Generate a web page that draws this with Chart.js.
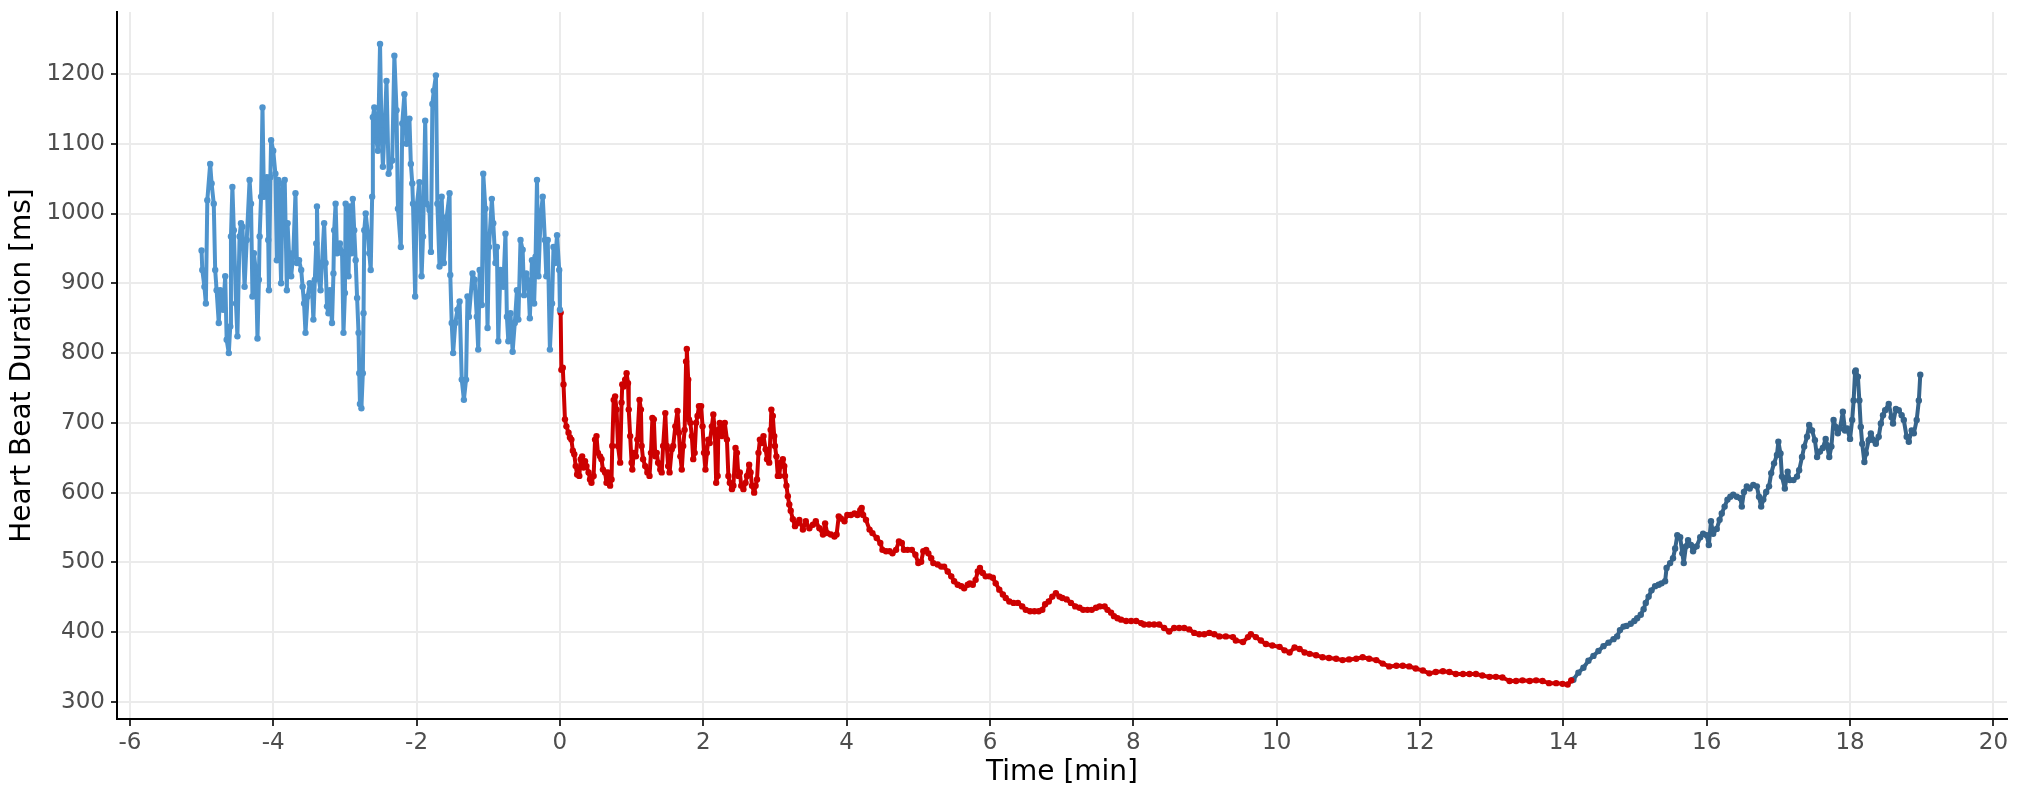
<!DOCTYPE html>
<html>
<head>
<meta charset="utf-8">
<title>Heart Beat Duration</title>
<script src="https://cdn.jsdelivr.net/npm/chart.js@4.4.1/dist/chart.umd.min.js"></script>
<style>
  html, body { margin: 0; padding: 0; background: #fff; }
  canvas { display: block; }
</style>
</head>
<body>
<canvas id="myChart" width="2018" height="800"></canvas>
<script>
// baseline (light blue), before time 0
const baseTime = [
  -5.00, -4.99, -4.96, -4.94, -4.92, -4.88, -4.86, -4.83, -4.81, -4.79, -4.76, -4.74, -4.72, -4.70, -4.67,
  -4.65, -4.62, -4.60, -4.59, -4.57, -4.55, -4.52, -4.50, -4.47, -4.45, -4.43, -4.40, -4.37, -4.33, -4.31,
  -4.29, -4.27, -4.24, -4.22, -4.20, -4.19, -4.17, -4.15, -4.13, -4.09, -4.07, -4.06, -4.04, -4.03, -4.00,
  -3.97, -3.95, -3.93, -3.89, -3.87, -3.84, -3.81, -3.80, -3.78, -3.75, -3.72, -3.69, -3.67, -3.64, -3.61,
  -3.59, -3.57, -3.55, -3.52, -3.49, -3.46, -3.44, -3.42, -3.40, -3.39, -3.37, -3.34, -3.32, -3.29, -3.27,
  -3.25, -3.23, -3.21, -3.18, -3.16, -3.15, -3.13, -3.11, -3.07, -3.04, -3.02, -3.00, -2.99, -2.96, -2.95,
  -2.93, -2.91, -2.89, -2.87, -2.85, -2.83, -2.81, -2.80, -2.79, -2.77, -2.75, -2.74, -2.73, -2.71, -2.68,
  -2.66, -2.64, -2.62, -2.61, -2.59, -2.56, -2.54, -2.51, -2.49, -2.47, -2.44, -2.42, -2.39, -2.37, -2.34,
  -2.31, -2.28, -2.26, -2.22, -2.20, -2.17, -2.14, -2.10, -2.08, -2.06, -2.05, -2.02, -2.00, -1.96, -1.93,
  -1.91, -1.88, -1.86, -1.82, -1.80, -1.78, -1.76, -1.73, -1.71, -1.68, -1.65, -1.62, -1.58, -1.54, -1.53,
  -1.51, -1.49, -1.46, -1.43, -1.40, -1.37, -1.34, -1.31, -1.29, -1.27, -1.22, -1.19, -1.16, -1.14, -1.12,
  -1.09, -1.07, -1.04, -1.01, -0.99, -0.95, -0.93, -0.90, -0.88, -0.86, -0.83, -0.79, -0.76, -0.74, -0.72,
  -0.69, -0.66, -0.63, -0.60, -0.58, -0.55, -0.52, -0.50, -0.47, -0.44, -0.42, -0.39, -0.36, -0.34, -0.32,
  -0.30, -0.27, -0.24, -0.21, -0.19, -0.17, -0.14, -0.11, -0.09, -0.07, -0.04, -0.01, 0.00
];
const baseMs = [
  947, 919, 895, 871, 1019, 1071, 1043, 1014, 919, 890, 843, 890, 886, 862, 910,
  819, 800, 838, 967, 1038, 976, 871, 824, 967, 986, 981, 895, 962, 1048, 1014,
  881, 943, 915, 821, 905, 967, 1024, 1152, 1024, 1052, 962, 890, 1052, 1105, 1090,
  1057, 933, 1048, 900, 1043, 1048, 890, 986, 943, 910, 943, 1029, 929, 933, 919,
  895, 871, 829, 881, 900, 895, 848, 905, 957, 1010, 910, 890, 929, 986, 929,
  867, 857, 890, 843, 914, 976, 1014, 943, 957, 943, 829, 886, 1014, 1000, 910,
  1010, 943, 1021, 976, 933, 879, 829, 771, 727, 721, 771, 857, 976, 1000, 971,
  943, 919, 1024, 1138, 1152, 1105, 1090, 1243, 1119, 1067, 1138, 1190, 1057, 1067, 1076,
  1226, 1148, 1007, 952, 1129, 1171, 1100, 1136, 1071, 1043, 1014, 881, 1010, 1045, 910,
  967, 1133, 1014, 1005, 945, 1157, 1176, 1198, 1014, 924, 1024, 929, 995, 1029, 912,
  843, 800, 843, 862, 874, 762, 733, 762, 881, 852, 914, 905, 852, 805, 919,
  869, 1057, 1007, 836, 952, 1021, 986, 929, 952, 817, 919, 895, 971, 852, 817,
  857, 802, 843, 890, 848, 962, 948, 883, 914, 900, 850, 933, 871, 938, 1048,
  910, 995, 1024, 962, 910, 962, 805, 871, 952, 929, 969, 919, 862
];

// stress phase (red)
const stressTime = [
  0.01, 0.02, 0.04, 0.05, 0.07, 0.09, 0.12, 0.14, 0.16, 0.18, 0.20, 0.22, 0.24, 0.27, 0.29,
  0.31, 0.33, 0.35, 0.37, 0.40, 0.42, 0.44, 0.47, 0.49, 0.51, 0.53, 0.56, 0.58, 0.60, 0.63,
  0.65, 0.67, 0.70, 0.72, 0.73, 0.75, 0.77, 0.79, 0.81, 0.84, 0.86, 0.87, 0.89, 0.91, 0.93,
  0.95, 0.96, 0.98, 1.00, 1.01, 1.03, 1.06, 1.08, 1.11, 1.13, 1.14, 1.16, 1.19, 1.22, 1.25,
  1.27, 1.29, 1.31, 1.33, 1.35, 1.37, 1.40, 1.42, 1.44, 1.47, 1.49, 1.51, 1.53, 1.56, 1.58,
  1.61, 1.64, 1.66, 1.68, 1.70, 1.72, 1.74, 1.76, 1.77, 1.79, 1.80, 1.82, 1.84, 1.86, 1.88,
  1.90, 1.92, 1.94, 1.97, 1.99, 2.01, 2.03, 2.05, 2.07, 2.09, 2.12, 2.14, 2.16, 2.18, 2.20,
  2.21, 2.23, 2.26, 2.28, 2.30, 2.33, 2.35, 2.37, 2.40, 2.42, 2.45, 2.47, 2.49, 2.51, 2.53,
  2.56, 2.59, 2.61, 2.64, 2.66, 2.68, 2.71, 2.73, 2.75, 2.77, 2.79, 2.82, 2.84, 2.87, 2.89,
  2.92, 2.94, 2.95, 2.97, 2.99, 3.00, 3.02, 3.04, 3.06, 3.08, 3.11, 3.13, 3.14, 3.16, 3.18,
  3.20, 3.22, 3.25, 3.28, 3.31, 3.34, 3.39, 3.43, 3.48, 3.53, 3.57, 3.62, 3.67, 3.70, 3.73,
  3.78, 3.83, 3.86, 3.89, 3.92, 3.97, 4.01, 4.06, 4.11, 4.15, 4.19, 4.21, 4.23, 4.27, 4.32,
  4.36, 4.42, 4.47, 4.50, 4.55, 4.60, 4.64, 4.69, 4.73, 4.77, 4.80, 4.85, 4.91, 4.96, 5.00,
  5.04, 5.07, 5.11, 5.14, 5.18, 5.21, 5.27, 5.32, 5.36, 5.41, 5.46, 5.50, 5.55, 5.60, 5.64,
  5.69, 5.72, 5.76, 5.80, 5.83, 5.86, 5.90, 5.94, 5.99, 6.04, 6.08, 6.13, 6.18, 6.22, 6.27,
  6.33, 6.39, 6.45, 6.50, 6.56, 6.62, 6.68, 6.73, 6.77, 6.82, 6.87, 6.92, 6.97, 7.01, 7.07,
  7.13, 7.19, 7.25, 7.30, 7.36, 7.42, 7.48, 7.53, 7.60, 7.64, 7.69, 7.73, 7.78, 7.83, 7.90,
  7.97, 8.04, 8.11, 8.15, 8.22, 8.29, 8.36, 8.43, 8.50, 8.57, 8.64, 8.71, 8.78, 8.85, 8.92,
  8.99, 9.06, 9.13, 9.20, 9.29, 9.39, 9.43, 9.53, 9.60, 9.64, 9.71, 9.78, 9.85, 9.94, 10.04,
  10.11, 10.18, 10.25, 10.32, 10.39, 10.46, 10.55, 10.64, 10.73, 10.83, 10.92, 11.01, 11.11, 11.20, 11.29,
  11.39, 11.48, 11.57, 11.67, 11.76, 11.85, 11.94, 12.04, 12.13, 12.22, 12.32, 12.41, 12.50, 12.60, 12.69,
  12.78, 12.87, 12.97, 13.06, 13.15, 13.25, 13.34, 13.43, 13.53, 13.62, 13.71, 13.80, 13.90, 13.99, 14.06,
  14.11
];
const stressMs = [
  858, 776, 779, 755, 705, 695, 686, 679, 676, 660, 655, 638, 626, 624, 648,
  652, 636, 645, 638, 629, 619, 614, 624, 676, 681, 657, 652, 648, 633, 629,
  614, 629, 610, 619, 667, 733, 738, 719, 667, 643, 729, 755, 752, 762, 771,
  757, 719, 681, 643, 633, 657, 652, 676, 733, 719, 667, 648, 638, 629, 624,
  657, 707, 705, 652, 657, 643, 633, 629, 667, 714, 667, 638, 629, 662, 667,
  695, 717, 686, 652, 633, 667, 690, 788, 806, 762, 705, 700, 681, 648, 657,
  700, 710, 724, 724, 695, 657, 633, 657, 676, 671, 695, 712, 690, 614, 624,
  686, 700, 681, 695, 700, 676, 624, 614, 605, 610, 664, 657, 624, 629, 610,
  605, 614, 624, 640, 629, 610, 600, 610, 619, 657, 676, 671, 681, 662, 648,
  643, 690, 719, 710, 681, 667, 652, 624, 624, 643, 648, 638, 624, 610, 595,
  583, 574, 562, 552, 556, 561, 547, 559, 549, 554, 559, 549, 540, 556, 542,
  540, 537, 540, 566, 563, 559, 568, 568, 570, 568, 575, 578, 568, 561, 547,
  542, 535, 528, 518, 516, 516, 513, 518, 530, 528, 518, 518, 518, 511, 499,
  501, 516, 518, 513, 506, 499, 497, 494, 494, 487, 480, 473, 468, 466, 463,
  468, 470, 468, 475, 487, 492, 485, 480, 480, 478, 470, 461, 454, 449, 444,
  442, 442, 437, 432, 430, 430, 430, 432, 440, 444, 451, 456, 451, 449, 447,
  442, 437, 435, 432, 432, 432, 435, 437, 437, 432, 428, 423, 420, 418, 416,
  416, 416, 413, 411, 411, 411, 411, 406, 401, 406, 406, 406, 404, 399, 397,
  397, 399, 397, 394, 394, 393, 388, 386, 393, 397, 393, 388, 383, 381, 379,
  374, 371, 378, 376, 371, 369, 367, 364, 363, 362, 360, 361, 362, 364, 362,
  360, 355, 351, 352, 352, 351, 348, 345, 341, 343, 344, 343, 340, 340, 340,
  340, 338, 336, 336, 335, 330, 330, 331, 330, 331, 330, 327, 327, 326, 325,
  331
];

// recovery (dark blue)
const recTime = [
  14.12, 14.14, 14.21, 14.28, 14.35, 14.42, 14.49, 14.56, 14.63, 14.70, 14.75, 14.79, 14.84, 14.88, 14.94,
  14.99, 15.03, 15.08, 15.12, 15.15, 15.19, 15.23, 15.28, 15.33, 15.37, 15.42, 15.44, 15.49, 15.53, 15.56,
  15.59, 15.63, 15.66, 15.68, 15.71, 15.74, 15.78, 15.81, 15.86, 15.91, 15.95, 16.00, 16.03, 16.06, 16.09,
  16.14, 16.18, 16.21, 16.25, 16.29, 16.33, 16.37, 16.42, 16.47, 16.49, 16.52, 16.56, 16.60, 16.65, 16.70,
  16.73, 16.76, 16.79, 16.83, 16.87, 16.90, 16.94, 16.98, 17.00, 17.03, 17.05, 17.09, 17.13, 17.16, 17.21,
  17.26, 17.29, 17.33, 17.36, 17.40, 17.43, 17.47, 17.51, 17.54, 17.58, 17.62, 17.66, 17.68, 17.71, 17.74,
  17.77, 17.80, 17.83, 17.86, 17.90, 17.93, 17.96, 18.00, 18.03, 18.05, 18.07, 18.08, 18.11, 18.13, 18.15,
  18.17, 18.20, 18.22, 18.26, 18.29, 18.33, 18.36, 18.40, 18.43, 18.46, 18.49, 18.54, 18.58, 18.60, 18.64,
  18.68, 18.72, 18.75, 18.79, 18.82, 18.86, 18.89, 18.93, 18.96, 18.98
];
const recMs = [
  331, 332, 342, 349, 359, 366, 373, 380, 385, 390, 394, 403, 408, 409, 412,
  416, 420, 425, 433, 442, 451, 460, 466, 468, 470, 473, 492, 499, 506, 520,
  539, 536, 513, 499, 523, 532, 525, 516, 523, 536, 541, 539, 525, 559, 541,
  548, 561, 570, 580, 590, 594, 597, 594, 592, 580, 601, 609, 606, 611, 609,
  594, 580, 590, 601, 609, 628, 642, 654, 673, 656, 623, 606, 630, 618, 618,
  623, 632, 651, 666, 680, 697, 689, 675, 651, 659, 664, 677, 668, 651, 666,
  704, 694, 685, 692, 716, 689, 692, 677, 704, 732, 773, 775, 766, 732, 694,
  670, 644, 656, 675, 685, 675, 670, 680, 699, 711, 718, 727, 708, 699, 720,
  718, 711, 704, 680, 673, 689, 685, 704, 732, 769
];

const xTicks = [-6, -4, -2, 0, 2, 4, 6, 8, 10, 12, 14, 16, 18, 20];
const yTicks = [300, 400, 500, 600, 700, 800, 900, 1000, 1100, 1200];

const ctx = document.getElementById("myChart");

function toPoints(times, values) {
  return times.map((t, i) => ({ x: t, y: values[i] }));
}

function serie(label, times, values, color) {
  return {
    label: label,
    data: toPoints(times, values),
    borderColor: color,
    backgroundColor: color,
    pointBackgroundColor: color,
    pointBorderWidth: 0,
    pointRadius: 3.2,
    borderWidth: 4,
    borderJoinStyle: "round", // no sharp miter spikes on the peaks
    borderCapStyle: "round",
    tension: 0,
  };
}

const tickFont = { family: "DejaVu Sans", size: 23 };
const titleFont = { family: "DejaVu Sans", size: 28 };

new Chart(ctx, {
  type: "line",
  data: {
    datasets: [
      serie("Baseline", baseTime, baseMs, "#4f94cd"),
      serie("Stress", stressTime, stressMs, "#cd0000"),
      serie("Recovery", recTime, recMs, "#36648b"),
    ],
  },
  options: {
    responsive: false,
    devicePixelRatio: 1,
    animation: false,
    layout: { padding: { top: 12, right: 11, left: 0, bottom: 0 } },
    plugins: { legend: { display: false }, tooltip: { enabled: false } },
    scales: {
      x: {
        type: "linear",
        min: -6.18,
        max: 20.19,
        afterBuildTicks: (scale) => { scale.ticks = xTicks.map((v) => ({ value: v })); },
        afterFit: (scale) => {
          scale.height = 81;
          scale.paddingLeft = 0;
          scale.paddingRight = 0;
        },
        ticks: { font: tickFont, color: "#4d4d4d", padding: 3, maxRotation: 0, callback: (v) => String(v) },
        grid: { color: "#ebebeb", lineWidth: 2, tickColor: "#333333", tickLength: 7 },
        border: { display: true, color: "#000000", width: 2 },
        title: { display: true, text: "Time [min]", font: titleFont, color: "#000000", padding: { top: 0, bottom: 10 } },
      },
      y: {
        type: "linear",
        min: 275.6,
        max: 1288.8,
        afterBuildTicks: (scale) => { scale.ticks = yTicks.map((v) => ({ value: v })); },
        afterFit: (scale) => {
          // ticks sit well inside the range, no need for the extra label padding
          scale.width = 117;
          scale.paddingTop = 0;
          scale.paddingBottom = 0;
        },
        ticks: { font: tickFont, color: "#4d4d4d", padding: 6, callback: (v) => String(v) },
        grid: { color: "#ebebeb", lineWidth: 2, tickColor: "#333333", tickLength: 6 },
        border: { display: true, color: "#000000", width: 2 },
        title: { display: true, text: "Heart Beat Duration [ms]", font: titleFont, color: "#000000", padding: { top: 6, bottom: 4 } },
      },
    },
  },
});
</script>
</body>
</html>
